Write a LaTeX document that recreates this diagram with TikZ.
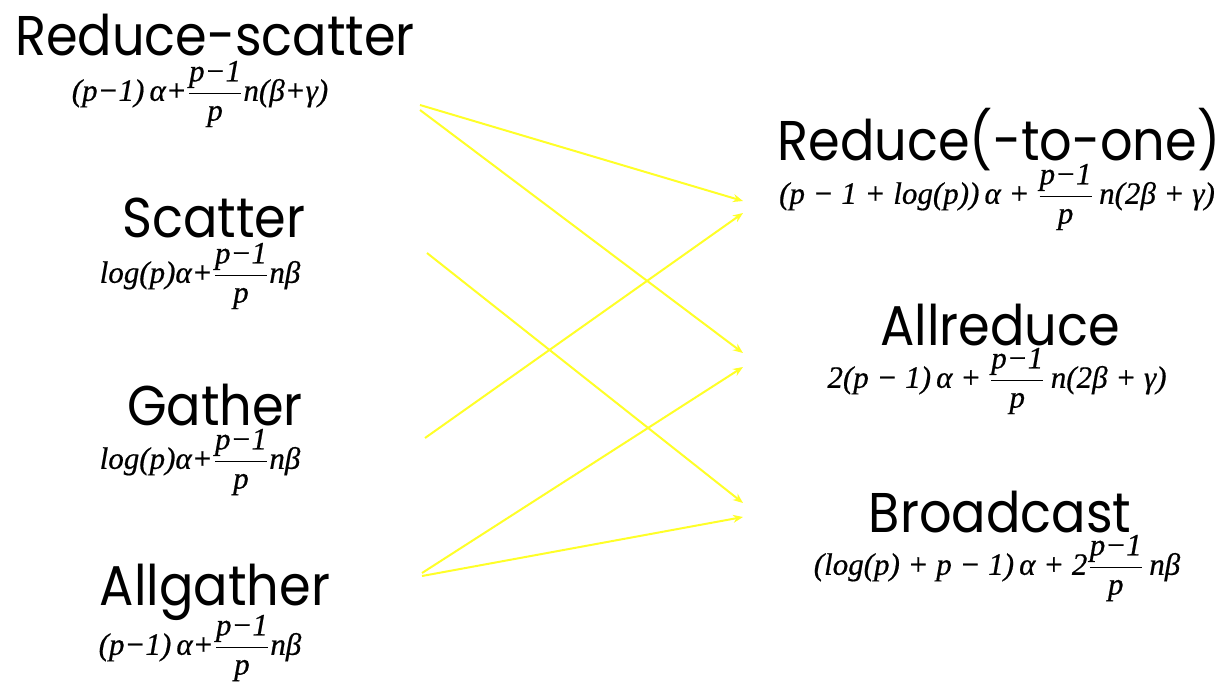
\documentclass[tikz,border=0pt]{standalone}
\usepackage{amsmath}
\usepackage{fontspec}
\setmainfont{Poppins}
\newfontfamily\ttl[FakeStretch=0.91]{Poppins}
\newfontfamily\tms[FakeBold=0.6]{Liberation Serif}
\usetikzlibrary{arrows.meta}
\definecolor{arr}{RGB}{255,255,40}
\newcommand\fr[2]{$\genfrac{}{}{0.8pt}{0}{\hbox{\tms\itshape #1}}{\hbox{\tms\itshape #2}}$}
\tikzset{
  title/.style={font=\fontsize{28}{30}\selectfont\ttl, inner sep=0pt, anchor=center},
  fml/.style={font=\fontsize{15.5}{17}\selectfont\tms\itshape, inner sep=0pt, anchor=center},
  link/.style={draw=arr, line width=1pt, -{Stealth[length=5pt,width=4pt]}},
}
\begin{document}
\begin{tikzpicture}[x=0.5pt,y=-0.5pt]
\useasboundingbox (0,0) rectangle (1224,686);
% left titles
\node[title] (rs) at (215,35) {Reduce-scatter};
\node[fml] (rsf) at (200,94) {(p−1)\,α+\fr{p−1}{p}n(β+γ)};
\node[title] (sc) at (214,218) {Scatter};
\node[fml] (scf) at (200,276) {log(p)α+\fr{p−1}{p}nβ};
\node[title] (ga) at (215,405) {Gather};
\node[fml] (gaf) at (200,462) {log(p)α+\fr{p−1}{p}nβ};
\node[title] (ag) at (215,592) {Allgather};
\node[fml] (agf) at (200,648) {(p−1)\,α+\fr{p−1}{p}nβ};
% right titles
\node[title] (re) at (999,140) {Reduce(-to-one)};
\node[fml] (ref) at (997,197) {(p − 1 + log(p))\,α + \fr{p−1}{p}\,n(2β + γ)};
\node[title] (ar) at (1000,325) {Allreduce};
\node[fml] (arf) at (997,381) {2(p − 1)\,α + \fr{p−1}{p}\,n(2β + γ)};
\node[title] (bc) at (1000,512) {Broadcast};
\node[fml] (bcf) at (997,568) {(log(p) + p − 1)\,α + 2\fr{p−1}{p}\,nβ};
% connector ends
\coordinate (rsA) at (420,105);
\coordinate (rsB) at (420,110);
\coordinate (scA) at (427,253);
\coordinate (gaA) at (425,438);
\coordinate (agA) at (422,573);
\coordinate (agB) at (422,576);
\coordinate (reA) at (743,201);
\coordinate (reB) at (743,213);
\coordinate (arA) at (743,353);
\coordinate (arB) at (743,367);
\coordinate (bcA) at (743,503);
\coordinate (bcB) at (743,517);
\draw[link] (rsA) -- (reA);
\draw[link] (rsB) -- (arA);
\draw[link] (scA) -- (bcA);
\draw[link] (gaA) -- (reB);
\draw[link] (agA) -- (arB);
\draw[link] (agB) -- (bcB);
\end{tikzpicture}
\end{document}
